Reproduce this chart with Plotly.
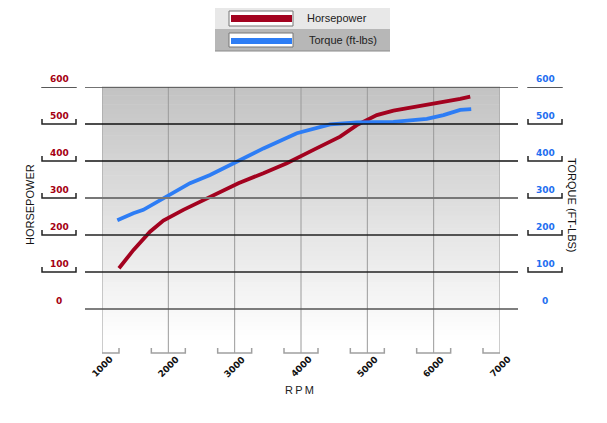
import plotly.graph_objects as go

# ---------------- data ----------------
rpm_hp = [1256, 1472, 1724, 1925, 2226, 2478, 2730, 2931, 3056, 3433, 3786,
          4187, 4590, 4841, 5143, 5394, 5897, 6148, 6400, 6551]
horsepower = [110, 159, 209, 239, 268, 290, 313, 329, 340, 367, 394,
              430, 466, 497, 524, 536, 551, 560, 568, 574]

rpm_tq = [1231, 1472, 1623, 1975, 2327, 2629, 2931, 3056, 3433, 3937, 4187,
          4439, 4841, 5193, 5394, 5897, 6148, 6400, 6566]
torque = [240, 259, 268, 304, 340, 362, 390, 401, 434, 475, 488,
          499, 504, 505, 506, 514, 524, 538, 540]

series_names = ["Horsepower", "Torque (ft-lbs)"]
x_ticks = [1000, 2000, 3000, 4000, 5000, 6000, 7000]
y_ticks = [0, 100, 200, 300, 400, 500, 600]
y_tick_labels = ["0", "100", "200", "300", "400", "500", "600"]

RED = "#a3021f"
BLUE = "#2d7df5"
RED_TXT = "#a50012"
BLUE_TXT = "#1f6ff0"

OFF = 8  # page body margin
W, H = 607 - OFF, 423 - OFF
PL, PT, PR, PB = 102, 87, 500, 353  # plot area in page pixels
L, T = PL - OFF, PT - OFF
PW, PH = PR - PL, PB - PT
R, B = W - L - PW, H - T - PH
Y_RANGE = [-118.9, 600]


def px(x):
    return (x - PL) / PW


def py(y):
    return (PB - y) / PH


fig = go.Figure()
fig.add_trace(go.Scatter(x=rpm_hp, y=horsepower, name=series_names[0], mode="lines",
                         line=dict(color=RED, width=3.8), yaxis="y"))
fig.add_trace(go.Scatter(x=rpm_tq, y=torque, name=series_names[1], mode="lines",
                         line=dict(color=BLUE, width=3.8), yaxis="y2"))

shapes = []
ann = []

# gradient background (plot area)
N = 60
for i in range(N):
    f0, f1 = i / N, (i + 1) / N
    pix = PB - (f0 + f1) / 2 * PH
    v = 255 - (255 - 194) * max(0.0, min(1.0, (340 - pix) / (340 - PT)))
    c = int(round(v))
    shapes.append(dict(type="rect", xref="paper", yref="paper", x0=0, x1=1,
                       y0=f0, y1=f1 + 0.002, fillcolor=f"rgb({c},{c},{c})",
                       line=dict(width=0), layer="below"))

# vertical grid lines + bottom brackets + rotated tick labels
for t in x_ticks:
    shapes.append(dict(type="line", xref="x", yref="paper", x0=t, x1=t, y0=0, y1=1,
                       line=dict(color="#9a9a9a", width=1), layer="below"))
    shapes.append(dict(type="path", xref="x", yref="paper", xsizemode="pixel",
                       ysizemode="pixel", xanchor=t, yanchor=0,
                       path="M-17,5 L-17,0 L17,0 L17,5",
                       line=dict(color="#a0a0a0", width=1.5)))
    ann.append(dict(x=t, y=py(367), xref="x", yref="paper", text=f"<b>{t}</b>",
                    textangle=-45, showarrow=False, xanchor="center", yanchor="middle",
                    font=dict(family="DejaVu Sans", size=9, color="#111")))

# horizontal grid lines, side labels, brackets
line_styles = {0: ("#555", 1.5), 100: ("#222", 1.3), 200: ("#222", 1.3),
               300: ("#777", 2), 400: ("#111", 1.3), 500: ("#111", 1.3),
               600: ("#444", 1.3)}
for v, lab in zip(y_ticks, y_tick_labels):
    col, wd = line_styles[v]
    shapes.append(dict(type="line", xref="paper", yref="y", x0=px(85), x1=px(518),
                       y0=v, y1=v, line=dict(color=col, width=wd)))
    for xc, tc in ((59, RED_TXT), (545, BLUE_TXT)):
        ann.append(dict(x=px(xc), y=v, xref="paper", yref="y", text=f"<b>{lab}</b>",
                        showarrow=False, xanchor="center", yanchor="middle", yshift=8,
                        font=dict(family="DejaVu Sans", size=9, color=tc)))
        if v != 0:
            shapes.append(dict(type="path", xref="paper", yref="y", xsizemode="pixel",
                               ysizemode="pixel", xanchor=px(xc), yanchor=v,
                               path="M-17,5 L-17,0 L17,0 L17,5",
                               line=dict(color="#222", width=1.5)))

# axis titles
ann.append(dict(x=px(22), y=py(205), xref="paper", yref="paper", text="HORSEPOWER",
                textangle=-90, showarrow=False,
                font=dict(family="Liberation Sans", size=11, color="#111")))
ann.append(dict(x=px(580), y=py(205), xref="paper", yref="paper", text="TORQUE (FT-LBS)",
                textangle=90, showarrow=False,
                font=dict(family="Liberation Sans", size=11, color="#111")))
ann.append(dict(x=px(299), y=py(398), xref="paper", yref="paper",
                text="R\u2009P\u2009M", showarrow=False,
                font=dict(family="Liberation Sans", size=11, color="#222")))

# legend box
shapes.append(dict(type="rect", xref="paper", yref="paper", x0=px(215), x1=px(390),
                   y0=py(29), y1=py(7), fillcolor="#e8e8e8",
                   line=dict(width=0)))
shapes.append(dict(type="rect", xref="paper", yref="paper", x0=px(215), x1=px(390),
                   y0=py(51), y1=py(29), fillcolor="#b7b7b7",
                   line=dict(width=0)))
shapes.append(dict(type="line", xref="paper", yref="paper", x0=px(215), x1=px(390),
                   y0=py(7), y1=py(7), line=dict(color="#cfcfcf", width=1)))
shapes.append(dict(type="line", xref="paper", yref="paper", x0=px(215), x1=px(390),
                   y0=py(51), y1=py(51), line=dict(color="#8a8a8a", width=1)))
for (top, bot, bt, bb, col, name, xc) in ((11, 26, 15, 22, RED, series_names[0], 337),
                                          (33, 47, 38, 44, BLUE, series_names[1], 343)):
    shapes.append(dict(type="rect", xref="paper", yref="paper", x0=px(229), x1=px(293),
                       y0=py(bot), y1=py(top), fillcolor="white",
                       line=dict(color="#777", width=1)))
    shapes.append(dict(type="rect", xref="paper", yref="paper", x0=px(231), x1=px(292),
                       y0=py(bb), y1=py(bt), fillcolor=col, line=dict(width=0)))
    ann.append(dict(x=px(xc), y=py((top + bot) / 2), xref="paper", yref="paper",
                    text=name, showarrow=False, xanchor="center", yanchor="middle",
                    font=dict(family="Liberation Sans", size=11, color="#222")))

fig.update_layout(
    width=W, height=H,
    margin=dict(l=L, r=R, t=T, b=B, pad=0),
    paper_bgcolor="white", plot_bgcolor="rgba(0,0,0,0)",
    showlegend=False,
    xaxis=dict(range=[1000, 7000], showgrid=False, zeroline=False, showticklabels=False,
               showline=False, ticks="", fixedrange=True),
    yaxis=dict(range=Y_RANGE, showgrid=False, zeroline=False, showticklabels=False,
               showline=False, ticks="", fixedrange=True),
    yaxis2=dict(range=Y_RANGE, overlaying="y", side="right", showgrid=False,
                zeroline=False, showticklabels=False, showline=False, ticks="",
                fixedrange=True),
    shapes=shapes, annotations=ann,
)

fig.write_html("out.html")
